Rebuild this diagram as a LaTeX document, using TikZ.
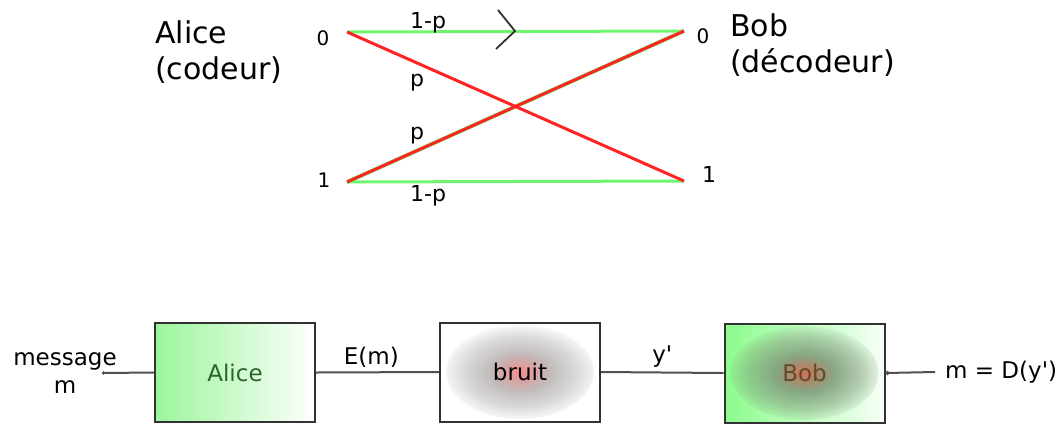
\documentclass[tikz,border=0pt]{standalone}
\usepackage{fontspec}
\setmainfont{DejaVu Sans}
\usetikzlibrary{arrows.meta, fadings, positioning}

\definecolor{keepgreen}{RGB}{110,245,110}
\definecolor{flipred}{RGB}{255,35,35}
\definecolor{alicefill}{RGB}{155,245,155}
\definecolor{alicetext}{RGB}{45,100,45}
\definecolor{bobfill}{RGB}{140,252,140}
\definecolor{bobtext}{RGB}{95,75,45}
\definecolor{boxline}{RGB}{50,50,50}
\definecolor{wire}{RGB}{80,80,80}
\definecolor{noisecore}{RGB}{245,140,140}
\definecolor{noisehalo}{RGB}{180,175,175}
\definecolor{bobcore}{RGB}{215,110,85}
\definecolor{bobhalo}{RGB}{125,150,120}

\pgfdeclareradialshading{glowmask}{\pgfpoint{0bp}{0bp}}{color(0bp)=(white); color(9bp)=(white!85!black); color(18bp)=(white!45!black); color(25bp)=(black); color(50bp)=(black)}
\pgfdeclarefading{glowfade}{\pgfuseshading{glowmask}}
\pgfdeclareradialshading{noiseglow}{\pgfpoint{0bp}{0bp}}{color(0bp)=(noisecore); color(10bp)=(noisehalo); color(25bp)=(noisehalo); color(50bp)=(noisehalo)}
\pgfdeclareradialshading{bobglow}{\pgfpoint{0bp}{0bp}}{color(0bp)=(bobcore); color(9bp)=(bobhalo); color(25bp)=(bobhalo); color(50bp)=(bobhalo)}

\begin{document}
\begin{tikzpicture}[
    x=1pt, y=-1pt,
    party/.style={font=\fontsize{30}{36}\selectfont, align=left, inner sep=0pt},
    digit/.style={font=\fontsize{20}{24}\selectfont, inner sep=0pt},
    prob/.style={font=\fontsize{22}{26}\selectfont, inner sep=0pt},
    keep/.style={draw=keepgreen, line width=3pt},
    flip/.style={draw=flipred, line width=3pt},
    block/.style={
        draw=boxline, line width=2pt, rectangle,
        minimum width=160pt, minimum height=99pt, inner sep=0pt,
        font=\fontsize{23}{28}\selectfont
    },
    glow/.style={path picture={
        \shade[shading=#1, path fading=glowfade]
            (path picture bounding box.center) ellipse [x radius=74pt, y radius=47pt];}},
    link/.style={draw=wire, line width=2pt},
    lbl/.style={font=\fontsize{23}{28}\selectfont, inner sep=0pt}
]
\useasboundingbox (0,0) rectangle (1057,424);

\node[party, anchor=base west] (sender)   at (155,79) {Alice\\(codeur)};
\node[party, anchor=base west] (receiver) at (730,72) {Bob\\(décodeur)};

\coordinate (A0) at (347,32);
\coordinate (A1) at (347,182);
\coordinate (B0) at (684,31);
\coordinate (B1) at (684,181);

\node[digit, anchor=base] (in0)  at (323,45)  {0};
\node[digit, anchor=base] (in1)  at (324,187) {1};
\node[digit, anchor=base] (out0) at (703,43)  {0};
\node[prob, anchor=base]  (out1) at (709,182) {1};

\draw[keep] (A0) -- (B0);
\draw[keep] (A1) -- (B1);
\draw[keep, line width=4pt] (A1) -- (B0);
\draw[flip] (A1) -- (B0);
\draw[flip] (A0) -- (B1);
\draw[draw=boxline, line width=1.8pt] (498,10) -- (515,31) -- (496,49);

\node[prob, anchor=base west] (p00) at (410,28)  {1-p};
\node[prob, anchor=base west] (p01) at (410,86)  {p};
\node[prob, anchor=base west] (p10) at (410,139) {p};
\node[prob, anchor=base west] (p11) at (410,201) {1-p};

\node[block, left color=alicefill, right color=white, text=alicetext] (alice) at (235,372.5) {Alice};
\node[block, fill=white, glow=noiseglow] (bruit) at (520,372) {bruit};
\node[block, left color=bobfill, right color=bobfill!8!white, glow=bobglow, text=bobtext] (bob) at (804.5,373) {Bob};

\coordinate (msgend) at (102,373);
\coordinate (decend) at (935,372);

\node[lbl, align=center, anchor=base] (message) at (65,393) {message\\m};
\draw[link, {Circle[length=3pt]}-] (msgend) -- (alice.west);
\draw[link] (alice.east) -- (bruit.west) node[lbl, pos=0.45, above=4pt] {E(m)};
\draw[link] (bruit.east) -- (bob.west) node[lbl, midway, above=4pt] {y\textquotesingle};
\draw[link, -{Circle[length=4pt]}] (decend) -- (bob.east);
\node[lbl, right=10pt of decend] (decoded) {m = D(y\textquotesingle)};

\end{tikzpicture}
\end{document}
